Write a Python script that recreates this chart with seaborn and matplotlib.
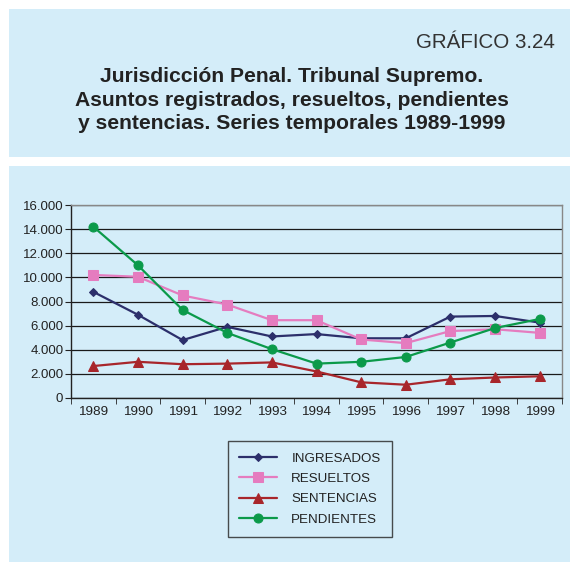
import pandas as pd
import matplotlib.pyplot as plt
import matplotlib.ticker as mticker
from matplotlib.patches import Rectangle
import seaborn as sns

# ========= DATOS =========
anios = [1989, 1990, 1991, 1992, 1993, 1994, 1995, 1996, 1997, 1998, 1999]
ingresados = [8800, 6900, 4800, 5900, 5100, 5300, 4950, 4950, 6750, 6800, 6250]
resueltos = [10200, 10050, 8500, 7750, 6450, 6450, 4850, 4550, 5550, 5700, 5400]
sentencias = [2650, 3000, 2800, 2850, 2950, 2200, 1300, 1100, 1550, 1700, 1800]
pendientes = [14200, 11000, 7300, 5400, 4050, 2850, 3000, 3400, 4600, 5800, 6550]

series = ["INGRESADOS", "RESUELTOS", "SENTENCIAS", "PENDIENTES"]
colores = ["#2c2f6b", "#e57cbf", "#a8262b", "#0b9a4a"]
marcadores = ["D", "s", "^", "o"]
tamanos = [4.5, 7, 7, 6.5]

FONDO = "#d4edf9"

df = pd.DataFrame({
    "anio": anios * 4,
    "valor": ingresados + resueltos + sentencias + pendientes,
    "serie": sum([[s] * len(anios) for s in series], []),
})

sns.set_style("white")
plt.rcParams["font.family"] = ["Liberation Sans", "DejaVu Sans"]

W, H = 570, 562
fig = plt.figure(figsize=(W / 100, H / 100), dpi=100)

# paneles de fondo
fig.patches.append(Rectangle((9 / W, 1 - 157 / H), (W - 9) / W, (157 - 9) / H,
                             transform=fig.transFigure, facecolor=FONDO, edgecolor="none", zorder=-10))
fig.patches.append(Rectangle((9 / W, 0), (W - 9) / W, 1 - 166 / H,
                             transform=fig.transFigure, facecolor=FONDO, edgecolor="none", zorder=-10))

# titulos
fig.text(555 / W, 1 - 43 / H, "GRÁFICO 3.24", ha="right", va="center", fontsize=14.8, color="#333333")
fig.text(292 / W, 1 - 100 / H,
         "Jurisdicción Penal. Tribunal Supremo.\nAsuntos registrados, resueltos, pendientes\ny sentencias. Series temporales 1989-1999",
         ha="center", va="center", fontsize=15.2, fontweight="bold", color="#222222", linespacing=1.3)

# ========= GRAFICO =========
ax = fig.add_axes([71 / W, 1 - 398 / H, (562 - 71) / W, (398 - 205) / H])
ax.set_facecolor(FONDO)

for s, c, m, ms in zip(series, colores, marcadores, tamanos):
    sub = df[df["serie"] == s]
    sns.lineplot(data=sub, x="anio", y="valor", ax=ax, color=c, marker=m, markersize=ms,
                 markeredgecolor=c, linewidth=1.6, label=s, zorder=3)

ax.set_xlim(1988.5, 1999.5)
ax.set_ylim(0, 16000)
ax.set_xlabel("")
ax.set_ylabel("")

ax.set_xticks(anios)
ax.set_xticklabels([str(a) for a in anios])
ax.xaxis.set_minor_locator(mticker.FixedLocator([a + 0.5 for a in range(1988, 2000)]))
ax.tick_params(axis="x", which="major", length=0, labelsize=9.7, pad=6, colors="#222222")
ax.tick_params(axis="x", which="minor", length=4, direction="out", color="#222222", bottom=True)

ax.set_yticks(range(0, 16001, 2000))
ax.yaxis.set_major_formatter(mticker.FuncFormatter(lambda v, p: f"{int(v):,}".replace(",", ".")))
ax.tick_params(axis="y", length=4, direction="out", labelsize=9.5, pad=1.5, colors="#222222", left=True)

ax.grid(axis="y", color="#1a1a1a", linewidth=0.9, zorder=1)
ax.set_axisbelow(True)
for lado in ["left", "bottom"]:
    ax.spines[lado].set_color("#222222")
    ax.spines[lado].set_linewidth(1.0)
for lado in ["top", "right"]:
    ax.spines[lado].set_color("#888888")
    ax.spines[lado].set_linewidth(1.0)

leg = ax.legend(loc="upper left", bbox_to_anchor=(228 / W, 1 - 441 / H), bbox_transform=fig.transFigure,
                frameon=True, fancybox=False, fontsize=9.6, handlelength=2.8, labelspacing=0.6,
                borderpad=0.85, handletextpad=1.1, borderaxespad=0)
leg.get_frame().set_facecolor(FONDO)
leg.get_frame().set_edgecolor("#222222")
leg.get_frame().set_linewidth(1.0)
for t in leg.get_texts():
    t.set_color("#222222")

plt.savefig("out.png", dpi=100)
plt.close()
